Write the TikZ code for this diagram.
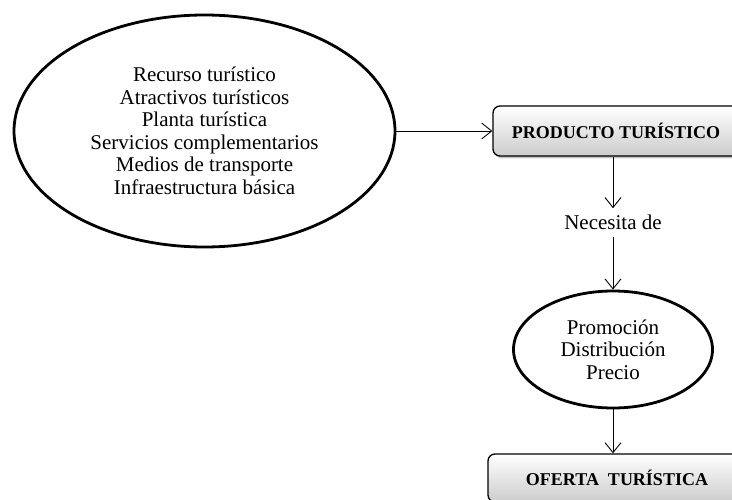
\documentclass[tikz,border=0pt]{standalone}
\usepackage{fontspec}
\setmainfont{Liberation Serif}
\usetikzlibrary{shapes.geometric}
\usetikzlibrary{positioning}
\usetikzlibrary{arrows.meta}
\usetikzlibrary{shadows}

\begin{document}
\begin{tikzpicture}[x=1pt,y=-1pt,
        -{Straight Barb[length=10pt,width=16pt]},
        elli/.style = {ellipse,draw,line width=2.8pt,align=center,
            font=\fontsize{21}{22.5}\selectfont,inner sep=0pt},
        box/.style = {draw,rounded corners=7pt,line width=1.3pt,
            top color=white,bottom color=black!20,
            drop shadow={opacity=0.45,shadow xshift=2pt,shadow yshift=-2.5pt},
            font=\fontsize{18}{20}\selectfont\bfseries},
        lbl/.style = {font=\fontsize{21}{22.5}\selectfont,inner xsep=0pt,inner ysep=7pt}]
    \useasboundingbox (0,0) rectangle (732,500);
    \node[elli,minimum width=381pt,minimum height=232pt] (recursos) at (204.5,131)
        {Recurso tur\'istico\\Atractivos tur\'isticos\\Planta tur\'istica\\
         Servicios complementarios\\Medios de transporte\\Infraestructura b\'asica};
    \node[box,minimum width=246pt,minimum height=50pt] (producto) at (616,131)
        {PRODUCTO TUR\'ISTICO};
    \node[lbl,anchor=base] (necesita) at (613,230) {Necesita de};
    \node[elli,minimum width=199pt,minimum height=117pt] (mezcla) at (613,349.5)
        {Promoci\'on\\Distribuci\'on\\Precio};
    \node[box,minimum width=258pt,minimum height=48pt] (oferta) at (617,478)
        {OFERTA\ \ TUR\'ISTICA};
    \path[line width=0.9pt]
        (recursos) edge (producto)
        (producto.south -| necesita) edge (necesita)
        (necesita) edge (mezcla)
        (mezcla) edge (oferta.north -| mezcla);
\end{tikzpicture}
\end{document}
